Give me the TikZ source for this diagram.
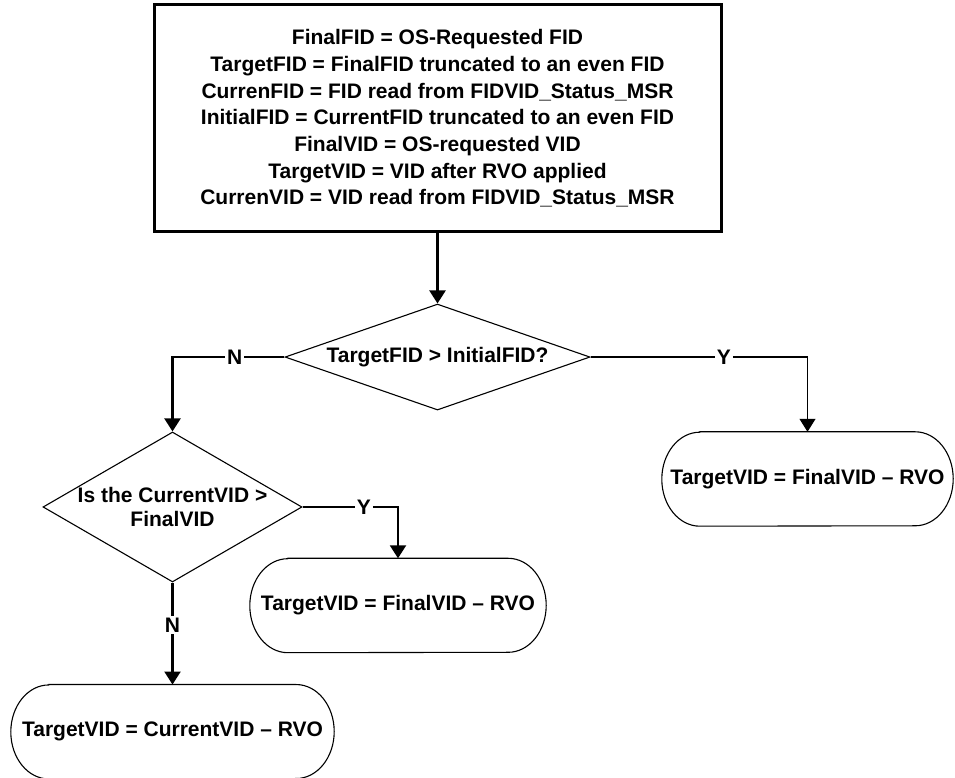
\documentclass[tikz,border=0pt]{standalone}
\usepackage{fontspec}
\setsansfont{Liberation Sans}
\usetikzlibrary{positioning,arrows.meta,shapes.geometric,calc}
\tikzset{
  fc/.style={font=\sffamily\bfseries\fontsize{21}{23.5}\selectfont, text=black},
  fcbox/.style={fc, font=\sffamily\bfseries\fontsize{21}{26.7}\selectfont, draw=black, line width=3pt, align=center, inner sep=0pt},
  fcdia/.style={fc, diamond, draw=black, line width=1.1pt, align=center, inner sep=0pt},
  fcterm/.style={fc, align=center, inner sep=0pt, minimum height=94pt},
  fcedge/.style={draw=black, line width=1.1pt},
  fcline/.style={draw=black, line width=2.2pt},
  fcarr/.style={fcline, -{Triangle[length=13pt,width=16pt]}},
  fcthin/.style={fcedge, -{Triangle[length=13pt,width=16pt]}},
  fclbl/.style={fc, fill=white, inner sep=2pt},
}
\newcommand{\fcoutline}[1]{%
  \draw[fcedge] ([xshift=38pt]#1.north west) -- ([xshift=-38pt]#1.north east)
    arc[start angle=90, end angle=-90, x radius=38pt, y radius=47pt]
    -- ([xshift=38pt]#1.south west)
    arc[start angle=270, end angle=90, x radius=38pt, y radius=47pt] -- cycle;}

\begin{document}
\begin{tikzpicture}[fc, x=1pt, y=1pt]
    \useasboundingbox (0,0) rectangle (955,778);

    \node[fcbox, minimum width=567pt, minimum height=227pt] (defs) at (437.5,659.5)
      {FinalFID = OS-Requested FID\\TargetFID = FinalFID truncated to an even FID\\CurrenFID = FID read from FIDVID\_Status\_MSR\\InitialFID = CurrentFID truncated to an even FID\\FinalVID = OS-requested VID\\TargetVID = VID after RVO applied\\CurrenVID = VID read from FIDVID\_Status\_MSR};
    \node[fcdia, aspect=2.88, minimum width=305pt, minimum height=106pt, below=70pt of defs] (fidchk) {TargetFID > InitialFID?};
    \node[fcdia, aspect=1.73, minimum width=259pt, minimum height=150pt, inner sep=-5pt] (vidchk) at (172.5,271) {Is the CurrentVID >\\FinalVID};

    \node[fcterm, minimum width=291pt] (up) at (807.5,299) {TargetVID = FinalVID – RVO};
    \node[fcterm, minimum width=296pt] (down) at (398,172.5) {TargetVID = FinalVID – RVO};
    \node[fcterm, minimum width=323pt, below=102pt of vidchk] (keep) {TargetVID = CurrentVID – RVO};
    \fcoutline{up}
    \fcoutline{down}
    \fcoutline{keep}

    \node[fclbl, left=40pt of fidchk.west] (fidno) {N};
    \node[fclbl, right=124pt of fidchk.east] (fidyes) {Y};
    \node[fclbl, right=52pt of vidchk.east] (vidyes) {Y};
    \node[fclbl, below=33pt of vidchk.south] (vidno) {N};

    \draw[fcarr] (defs) -- (fidchk);
    \draw[fcline] (fidchk.west) -- (fidno.east);
    \draw[fcarr] (fidno.west) -| (vidchk.north);
    \draw[fcline] (fidchk.east) -- (fidyes.west);
    \draw[fcthin] (fidyes.east) -| (up.north);
    \draw[fcline] (vidchk.east) -- (vidyes.west);
    \draw[fcarr] (vidyes.east) -| (down.north);
    \draw[fcline] (vidchk.south) -- (vidno.north);
    \draw[fcarr] (vidno.south) -- (keep.north);
  \end{tikzpicture}
\end{document}
